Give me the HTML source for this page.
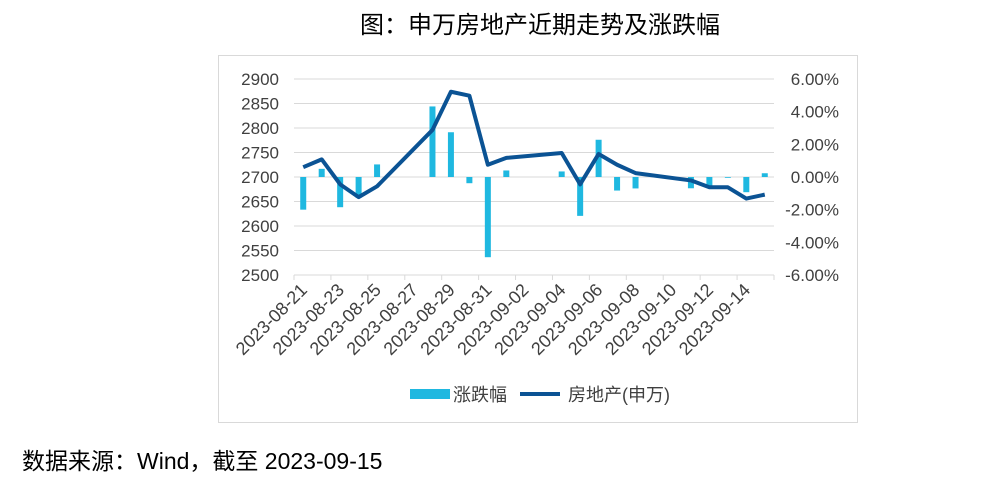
<!DOCTYPE html>
<html><head><meta charset="utf-8"><style>
body{margin:0;width:986px;height:482px;background:#fff;font-family:"Liberation Sans","Noto Sans CJK SC",sans-serif;overflow:hidden}
</style></head><body>
<svg width="986" height="482" style="position:absolute;left:0;top:0">
<text x="540" y="33" text-anchor="middle" font-size="24" fill="#000" font-family="Liberation Sans,Noto Sans CJK SC,sans-serif">图：申万房地产近期走势及涨跌幅</text>
<rect x="218.5" y="55.5" width="639" height="367" fill="none" stroke="#d9d9d9"/>
<g id="grid"></g><g id="bars"></g><g id="line"></g><g id="axes"></g>
<g>
<rect x="410" y="389" width="40" height="10" fill="#1fb8e0"/>
<text x="453" y="401" font-size="18" fill="#404040">涨跌幅</text>
<line x1="520" y1="394" x2="560" y2="394" stroke="#0b5394" stroke-width="4"/>
<text x="568" y="401" font-size="18" fill="#404040">房地产(申万)</text>
</g>
<text x="22" y="469" font-size="23" fill="#000">数据来源：Wind，截至 2023-09-15</text>
</svg>
<script>
const days=["2023-08-21","2023-08-22","2023-08-23","2023-08-24","2023-08-25","2023-08-26","2023-08-27","2023-08-28","2023-08-29","2023-08-30","2023-08-31","2023-09-01","2023-09-02","2023-09-03","2023-09-04","2023-09-05","2023-09-06","2023-09-07","2023-09-08","2023-09-09","2023-09-10","2023-09-11","2023-09-12","2023-09-13","2023-09-14","2023-09-15"];
const tradeDays=["2023-08-21","2023-08-22","2023-08-23","2023-08-24","2023-08-25","2023-08-28","2023-08-29","2023-08-30","2023-08-31","2023-09-01","2023-09-04","2023-09-05","2023-09-06","2023-09-07","2023-09-08","2023-09-11","2023-09-12","2023-09-13","2023-09-14","2023-09-15"];
const indexValues=[2720,2736,2685,2659,2681,2796,2874,2866,2725,2739,2749,2685,2747,2725,2708,2693,2679,2679,2656,2664];
const pctChanges=[-2.0,0.5,-1.85,-1.27,0.77,4.32,2.74,-0.38,-4.91,0.4,0.34,-2.38,2.28,-0.83,-0.7,-0.69,-0.58,-0.03,-0.93,0.23];
const leftTicks=[2500,2550,2600,2650,2700,2750,2800,2850,2900];
const rightTicks=[-6,-4,-2,0,2,4,6];
const NS="http://www.w3.org/2000/svg";
const X0=294,X1=774,Y0=275,Y1=79;
const step=(X1-X0)/days.length;
const xc=d=>X0+step*(days.indexOf(d)+0.5);
const yL=v=>Y0-(v-2500)/400*(Y0-Y1);
const yR=v=>Y0-(v+6)/12*(Y0-Y1);
function mk(t,a,p){const e=document.createElementNS(NS,t);for(const k in a)e.setAttribute(k,a[k]);p.appendChild(e);return e;}
const g=document.getElementById('grid'),b=document.getElementById('bars'),l=document.getElementById('line'),ax=document.getElementById('axes');
leftTicks.forEach(v=>{
 if(v>2500){const ln=mk('line',{x1:X0,x2:X1,y1:yL(v),y2:yL(v),stroke:'#d9d9d9','stroke-width':1},g);
 
 }
 const t=mk('text',{x:279,y:yL(v)+6,'text-anchor':'end','font-size':17,fill:'#404040'},ax);t.textContent=v;
 
 
});
rightTicks.forEach(v=>{
 const t=mk('text',{x:839,y:yR(v)+6,'text-anchor':'end','font-size':17,fill:'#404040'},ax);t.textContent=v.toFixed(2)+'%';
 
 
});
const axl=mk('line',{x1:X0,x2:X1,y1:Y0,y2:Y0,stroke:'#d9d9d9'},ax);


for(let i=0;i<=days.length;i+=2){
 const tk=mk('line',{x1:X0+i*step,x2:X0+i*step,y1:Y0,y2:Y0+5,stroke:'#d9d9d9'},ax);
 
 
}
days.forEach((d,i)=>{if(i%2)return;
 const x=xc(d)+5,y=Y0+16;
 const t=mk('text',{x:x,y:y,'text-anchor':'end','font-size':18,fill:'#404040',transform:`rotate(-45 ${x} ${y})`},ax);t.textContent=d;
 
 
});
tradeDays.forEach((d,i)=>{
 const y=yR(pctChanges[i]),z=yR(0);
 const r=mk('rect',{x:xc(d)-3,y:Math.min(y,z),width:6,height:Math.max(Math.abs(y-z),0.8),fill:'#1fb8e0'},b);
 
 
});
const p=mk('polyline',{points:tradeDays.map((d,i)=>xc(d)+','+yL(indexValues[i])).join(' '),fill:'none',stroke:'#0b5394','stroke-width':4,'stroke-linejoin':'round'},l);


</script>
</body></html>
